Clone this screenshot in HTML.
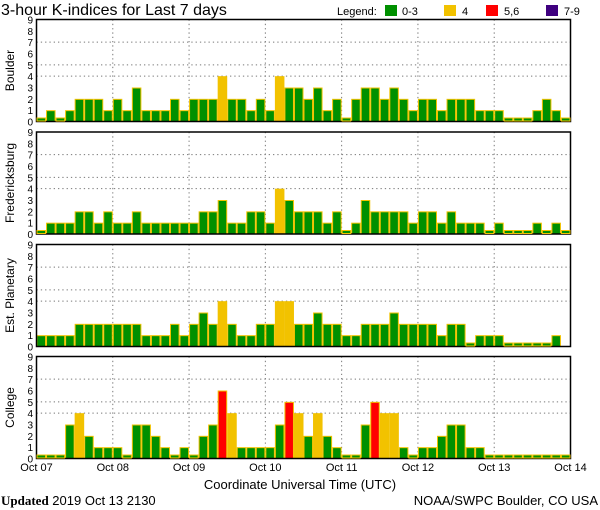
<!DOCTYPE html>
<html><head><meta charset="utf-8">
<style>
html,body{margin:0;padding:0;background:#fff;}
svg{display:block;font-family:"Liberation Sans",sans-serif;}
</style></head>
<body>
<svg id="chart" width="600" height="510" viewBox="0 0 600 510" xmlns="http://www.w3.org/2000/svg">
  <text x="1" y="15" font-size="16" fill="#000">3-hour K-indices for Last 7 days</text>
  <g font-size="11" fill="#000">
    <text x="337" y="15">Legend:</text>
    <rect x="385" y="5" width="12" height="11" fill="#009000"/>
    <text x="402" y="15">0-3</text>
    <rect x="444" y="5" width="12" height="11" fill="#f2c200"/>
    <text x="462" y="15">4</text>
    <rect x="486" y="5" width="12" height="11" fill="#ff0000"/>
    <text x="504" y="15">5,6</text>
    <rect x="546" y="5" width="12" height="11" fill="#3f007f"/>
    <text x="564" y="15">7-9</text>
  </g>
  <text x="300" y="489" font-size="13" text-anchor="middle" fill="#000">Coordinate Universal Time (UTC)</text>
  <text x="1" y="505" font-size="13" fill="#000"><tspan font-family="Liberation Serif" font-weight="bold">Updated</tspan> 2019 Oct 13 2130</text>
  <text x="598" y="505" font-size="13" text-anchor="end" fill="#000">NOAA/SWPC Boulder, CO USA</text>
</svg>
<script>
const stations = ["Boulder","Fredericksburg","Est. Planetary","College"];
const boulder = [0,1,0,1,2,2,2,1,2,1,3,1,1,1,2,1,2,2,2,4,2,2,1,2,1,4,3,3,2,3,1,2,0,2,3,3,2,3,2,1,2,2,1,2,2,2,1,1,1,0,0,0,1,2,1,0];
const fredericksburg = [0,1,1,1,2,2,1,2,1,1,2,1,1,1,1,1,1,2,2,3,1,1,2,2,1,4,3,2,2,2,1,2,0,1,3,2,2,2,2,1,2,2,1,2,1,1,1,0,1,0,0,0,1,0,1,0];
const planetary = [1,1,1,1,2,2,2,2,2,2,2,1,1,1,2,1,2,3,2,4,2,1,1,2,2,4,4,2,2,3,2,2,1,1,2,2,2,3,2,2,2,2,1,2,2,0,1,1,1,0,0,0,0,0,1,null];
const college = [0,0,0,3,4,2,1,1,1,0,3,3,2,1,0,1,0,2,3,6,4,1,1,1,1,3,5,4,2,4,2,1,0,0,3,5,4,4,1,0,1,1,2,3,3,1,1,0,0,0,0,0,0,0,0,0];
const dayLabels = ["Oct 07","Oct 08","Oct 09","Oct 10","Oct 11","Oct 12","Oct 13","Oct 14"];
const yTicks = [0,1,2,3,4,5,6,7,8,9];
const gridLevels = [4,5,7];

const series = [boulder, fredericksburg, planetary, college];
const NS = "http://www.w3.org/2000/svg";
const svg = document.getElementById("chart");
const X0 = 36.5, W = 534, H = 102, NB = 56;
const tops = [19.5, 132, 244.5, 356.5];
const xScale = i => X0 + i * W / NB;
const dayX = d => X0 + d * W / 7;
function yScale(top, v){ return top + H - v * H / 9; }
function color(v){ return v >= 7 ? "#3f007f" : v >= 5 ? "#ff0000" : v === 4 ? "#f2c200" : "#009000"; }
function mk(tag, attrs, parent){
  const e = document.createElementNS(NS, tag);
  for (const k in attrs) e.setAttribute(k, attrs[k]);
  parent.appendChild(e); return e;
}
stations.forEach((name, p) => {
  const top = tops[p], bot = top + H;
  const slug = name.toLowerCase().replace(/[^a-z]+/g, '-');
  const g = mk("g", {}, svg);
  
  
  gridLevels.forEach(l => {
    const ln = mk("line", {x1: X0, x2: X0 + W, y1: yScale(top, l), y2: yScale(top, l), stroke: "#777", "stroke-dasharray": "1.3,3", "stroke-width": 1}, g);
    
    
  });
  for (let d = 1; d < 7; d++) {
    const ln = mk("line", {x1: dayX(d), x2: dayX(d), y1: top, y2: bot, stroke: "#777", "stroke-dasharray": "1.3,3", "stroke-width": 1}, g);
    
    
  }
  series[p].forEach((v, i) => {
    if (v === null || v === 0) return;
    const x = xScale(i), w = W / NB;
    const y = yScale(top, v);
    const r = mk("rect", {x: x + 0.5, y: y + 0.5, width: w - 1, height: bot - y - 0.5, fill: color(v), stroke: "#f2c200", "stroke-width": 1}, g);
    
    
  });
  const fr = mk("rect", {x: X0, y: top, width: W, height: H, fill: "none", stroke: "#000", "stroke-width": 1.5}, g);
  
  
  series[p].forEach((v, i) => {
    if (v !== 0) return;
    const x = xScale(i), w = W / NB;
    const r = mk("rect", {x: x + 0.5, y: bot - 3.5, width: w - 1, height: 3, fill: "#009000", stroke: "#f2c200", "stroke-width": 1}, g);
    
    
  });
  yTicks.forEach(t => {
    const tx = mk("text", {x: 33, y: yScale(top, t) + 4, "font-size": 10, "text-anchor": "end", fill: "#000"}, g);
    tx.textContent = t;
    
    
  });
  const yt = mk("text", {x: 0, y: 0, "font-size": 12, "text-anchor": "middle", fill: "#000", transform: "translate(14," + (top + H / 2) + ") rotate(-90)"}, g);
  yt.textContent = name;
  
  
});
dayLabels.forEach((lab, d) => {
  const tx = mk("text", {x: dayX(d), y: 471, "font-size": 11, "text-anchor": "middle", fill: "#000"}, svg);
  tx.textContent = lab;
  
  
});
</script>
</body></html>
